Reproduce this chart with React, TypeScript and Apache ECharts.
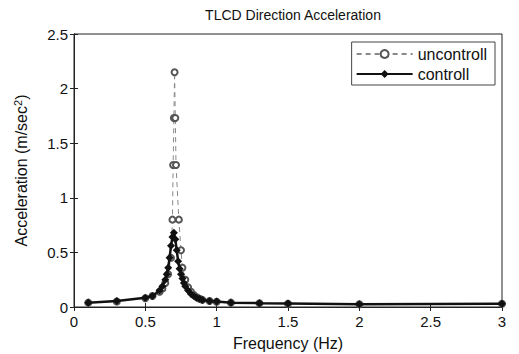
import React, { useEffect, useRef } from "react";
import * as echarts from "echarts";

const freqUncontrolled = [0.1, 0.3, 0.5, 0.55, 0.6, 0.62, 0.64, 0.66, 0.68, 0.69, 0.695, 0.7, 0.705, 0.71, 0.715, 0.735, 0.75, 0.76, 0.78, 0.8, 0.82, 0.84, 0.86, 0.88, 0.9, 0.95, 1.0, 1.1, 1.3, 1.5, 2.0, 3.0];
const accUncontrolled = [0.04, 0.05, 0.08, 0.1, 0.14, 0.17, 0.22, 0.3, 0.45, 0.8, 1.3, 1.73, 2.15, 1.73, 1.3, 0.8, 0.52, 0.36, 0.25, 0.18, 0.14, 0.11, 0.09, 0.075, 0.065, 0.055, 0.048, 0.04, 0.035, 0.03, 0.025, 0.03];

const freqControlled = [0.1, 0.3, 0.5, 0.55, 0.6, 0.62, 0.64, 0.65, 0.66, 0.67, 0.68, 0.69, 0.7, 0.71, 0.72, 0.73, 0.74, 0.75, 0.76, 0.77, 0.78, 0.8, 0.82, 0.84, 0.86, 0.88, 0.9, 0.95, 1.0, 1.1, 1.3, 1.5, 2.0, 3.0];
const accControlled = [0.04, 0.055, 0.085, 0.1, 0.15, 0.19, 0.25, 0.3, 0.36, 0.45, 0.56, 0.64, 0.68, 0.62, 0.52, 0.42, 0.35, 0.3, 0.26, 0.22, 0.19, 0.15, 0.12, 0.1, 0.085, 0.075, 0.065, 0.055, 0.05, 0.04, 0.035, 0.033, 0.025, 0.03];

const xTicks = { min: 0, max: 3, interval: 0.5 };
const yTicks = { min: 0, max: 2.5, interval: 0.5 };

const FONT = "Liberation Sans, Arial, sans-serif";

export default function App() {
  const ref = useRef<HTMLDivElement>(null);
  useEffect(() => {
    if (!ref.current) return;
    const chart = echarts.init(ref.current, undefined, { renderer: "svg" });
    const uData = freqUncontrolled.map((f, i) => [f, accUncontrolled[i]]);
    const cData = freqControlled.map((f, i) => [f, accControlled[i]]);
    const frameAxis = {
      axisLine: { show: true, lineStyle: { color: "#222" } },
      axisTick: { show: true, inside: true, length: 4, lineStyle: { color: "#222" } },
      splitLine: { show: false },
    };
    chart.setOption({
      animation: false,
      backgroundColor: "#ffffff",
      textStyle: { fontFamily: FONT },
      title: {
        text: "TLCD Direction Acceleration",
        left: 288,
        textAlign: "center",
        top: 3,
        textStyle: { fontSize: 14, fontWeight: "normal", color: "#111", fontFamily: FONT },
      },
      grid: {
        left: 74,
        right: 17,
        top: 34,
        bottom: 47,
        outerBoundsMode: "none",
        containLabel: false,
        show: true,
        borderColor: "#222",
        borderWidth: 1,
        backgroundColor: "transparent",
      },
      legend: {
        orient: "vertical",
        right: 24,
        top: 42,
        itemWidth: 56,
        itemHeight: 10,
        itemGap: 4,
        padding: [4, 8, 3, 4],
        borderColor: "#444",
        borderWidth: 1,
        backgroundColor: "#fff",
        textStyle: { fontSize: 16, color: "#111", fontFamily: FONT },
        data: ["uncontroll", "controll"],
      },
      xAxis: [
        {
          type: "value",
          ...xTicks,
          ...frameAxis,
          name: "Frequency (Hz)",
          nameLocation: "middle",
          nameGap: 28,
          nameTextStyle: { fontSize: 16, color: "#111", fontFamily: FONT },
          axisLabel: { fontSize: 15, color: "#111", margin: 7, fontFamily: FONT },
        },
        {
          type: "value",
          ...xTicks,
          ...frameAxis,
          position: "top",
          axisLabel: { show: false },
        },
      ],
      yAxis: [
        {
          type: "value",
          ...yTicks,
          ...frameAxis,
          name: "{b|Acceleration (m/sec}{s|2}{b|)}",
          nameLocation: "middle",
          nameGap: 44,
          nameTextStyle: {
            color: "#111",
            fontFamily: FONT,
            rich: {
              b: { fontSize: 16, color: "#111", fontFamily: FONT, lineHeight: 18 },
              s: { fontSize: 11, color: "#111", fontFamily: FONT, lineHeight: 18, verticalAlign: "top", padding: [0, 0, 9, 0] },
            },
          },
          axisLabel: { fontSize: 15, color: "#111", margin: 6, fontFamily: FONT },
        },
        {
          type: "value",
          ...yTicks,
          ...frameAxis,
          position: "right",
          axisLabel: { show: false },
        },
      ],
      series: [
        {
          name: "uncontroll",
          type: "line",
          data: uData,
          showAllSymbol: true,
          symbol: "emptyCircle",
          symbolSize: 6,
          color: "#555",
          itemStyle: { color: "#555", borderWidth: 1 },
          lineStyle: { color: "#888", width: 1, type: [5, 4] },
          z: 2,
        },
        {
          name: "controll",
          type: "line",
          data: cData,
          showAllSymbol: true,
          symbol: "diamond",
          symbolSize: 8,
          color: "#111",
          itemStyle: { color: "#111" },
          lineStyle: { color: "#111", width: 2.5 },
          z: 3,
        },
      ],
    });
    return () => chart.dispose();
  }, []);
  return (
    <div
      ref={ref}
      style={{ position: "fixed", left: 0, top: 0, width: 519, height: 354 }}
    />
  );
}
